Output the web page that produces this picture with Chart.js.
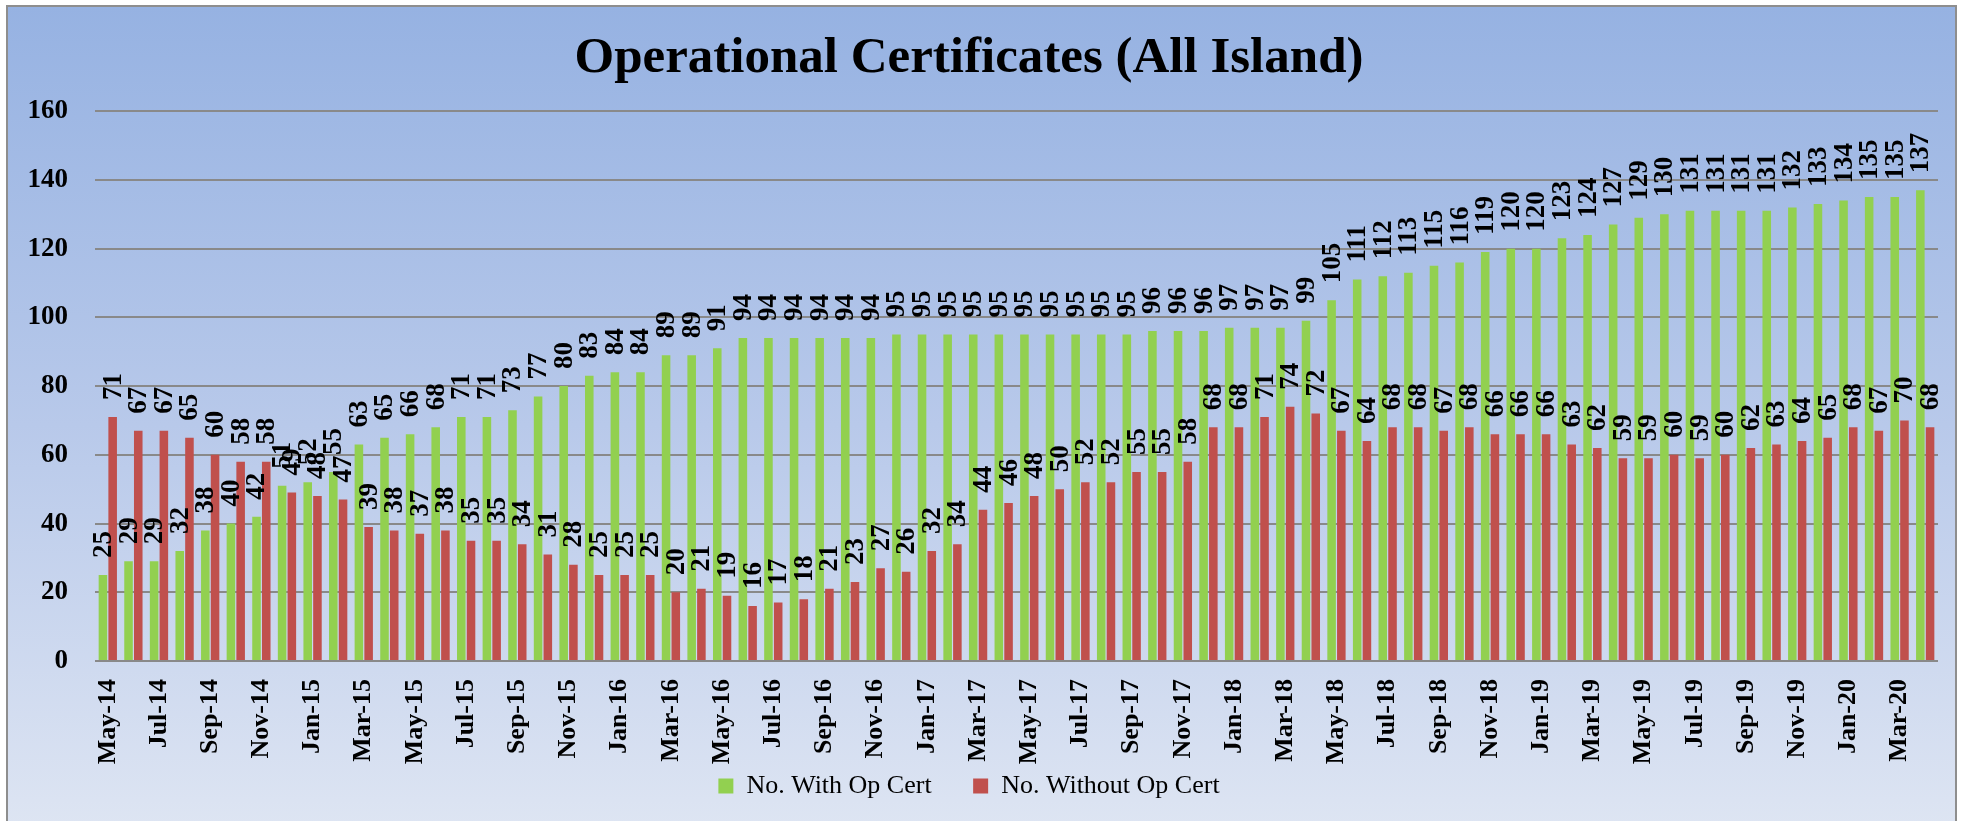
<!DOCTYPE html>
<html>
<head>
<meta charset="utf-8">
<script src="https://cdn.jsdelivr.net/npm/chart.js@4.4.0/dist/chart.umd.min.js"></script>
<style>
    html, body { margin: 0; padding: 0; background: #fff; overflow: hidden; }
    #frame {
        position: absolute; left: 6px; top: 5px; width: 1951px; height: 840px;
        box-sizing: border-box; border: 2px solid #8e8e8e;
        background: linear-gradient(to bottom, #96b2e2 0%, #b8c9ea 50%, #dfe6f3 100%);
    }
    #chart { position: absolute; left: 0; top: 0; }
</style>
</head>
<body>
<div id="frame"></div>
<canvas id="chart" width="1961" height="821"></canvas>
<script>
// months May-14 .. Apr-20
const months = [
    'May-14','Jun-14','Jul-14','Aug-14','Sep-14','Oct-14','Nov-14','Dec-14',
    'Jan-15','Feb-15','Mar-15','Apr-15','May-15','Jun-15','Jul-15','Aug-15','Sep-15','Oct-15','Nov-15','Dec-15',
    'Jan-16','Feb-16','Mar-16','Apr-16','May-16','Jun-16','Jul-16','Aug-16','Sep-16','Oct-16','Nov-16','Dec-16',
    'Jan-17','Feb-17','Mar-17','Apr-17','May-17','Jun-17','Jul-17','Aug-17','Sep-17','Oct-17','Nov-17','Dec-17',
    'Jan-18','Feb-18','Mar-18','Apr-18','May-18','Jun-18','Jul-18','Aug-18','Sep-18','Oct-18','Nov-18','Dec-18',
    'Jan-19','Feb-19','Mar-19','Apr-19','May-19','Jun-19','Jul-19','Aug-19','Sep-19','Oct-19','Nov-19','Dec-19',
    'Jan-20','Feb-20','Mar-20','Apr-20'
];

const withCert = [
    25, 29, 29, 32, 38, 40, 42, 51,
    52, 55, 63, 65, 66, 68, 71, 71, 73, 77, 80, 83,
    84, 84, 89, 89, 91, 94, 94, 94, 94, 94, 94, 95,
    95, 95, 95, 95, 95, 95, 95, 95, 95, 96, 96, 96,
    97, 97, 97, 99, 105, 111, 112, 113, 115, 116, 119, 120,
    120, 123, 124, 127, 129, 130, 131, 131, 131, 131, 132, 133,
    134, 135, 135, 137
];

const withoutCert = [
    71, 67, 67, 65, 60, 58, 58, 49,
    48, 47, 39, 38, 37, 38, 35, 35, 34, 31, 28, 25,
    25, 25, 20, 21, 19, 16, 17, 18, 21, 23, 27, 26,
    32, 34, 44, 46, 48, 50, 52, 52, 55, 55, 58, 68,
    68, 71, 74, 72, 67, 64, 68, 68, 67, 68, 66, 66,
    66, 63, 62, 59, 59, 60, 59, 60, 62, 63, 64, 65,
    68, 67, 70, 68
];

const yMin = 0;
const yMax = 160;
const yStep = 20;

// vertical value labels above each bar
const barLabels = {
    id: 'barLabels',
    afterDatasetsDraw(chart) {
        const ctx = chart.ctx;
        ctx.save();
        ctx.font = 'bold 27px "Liberation Serif"';
        ctx.fillStyle = '#000';
        ctx.textAlign = 'left';
        ctx.textBaseline = 'middle';
        chart.data.datasets.forEach((ds, i) => {
            chart.getDatasetMeta(i).data.forEach((bar, j) => {
                ctx.save();
                ctx.translate(bar.x + 1, bar.y - 17);
                ctx.rotate(-Math.PI / 2);
                ctx.fillText(ds.data[j], 0, 0);
                ctx.restore();
            });
        });
        ctx.restore();
    }
};

const ctx = document.getElementById('chart').getContext('2d');
const chart = new Chart(ctx, {
    type: 'bar',
    data: {
        labels: months,
        datasets: [{
            label: 'No. With Op Cert',
            data: withCert,
            backgroundColor: '#92d050',
            categoryPercentage: 0.76,
            barPercentage: 0.88
        }, {
            label: 'No. Without Op Cert',
            data: withoutCert,
            backgroundColor: '#c0504d',
            categoryPercentage: 0.76,
            barPercentage: 0.88
        }]
    },
    options: {
        responsive: false,
        animation: false,
        layout: { padding: { left: 0, right: 23, top: 0, bottom: 12 } },
        plugins: {
            title: {
                display: true,
                text: 'Operational Certificates (All Island)',
                color: '#000',
                font: { family: 'Liberation Serif', size: 51, weight: 'bold' },
                padding: { top: 28, bottom: 22 }
            },
            legend: {
                position: 'bottom',
                labels: {
                    color: '#000',
                    font: { family: 'Liberation Serif', size: 26 },
                    boxWidth: 15,
                    boxHeight: 15,
                    padding: 9,
                    // a few trailing spaces to widen the gap between the two entries
                    generateLabels: function(chart) {
                        const items = Chart.defaults.plugins.legend.labels.generateLabels(chart);
                        items[0].text += '     ';
                        return items;
                    }
                }
            },
            tooltip: { enabled: false }
        },
        scales: {
            x: {
                grid: { display: false, drawTicks: false },
                border: { display: false },
                ticks: {
                    autoSkip: false,
                    minRotation: 90,
                    maxRotation: 90,
                    padding: 18,
                    color: '#000',
                    font: { family: 'Liberation Serif', size: 26, weight: 'bold' },
                    callback: function(v, i) { return i % 2 === 0 ? this.getLabelForValue(v) : ''; }
                },
                afterFit: function(scale) {
                    scale.height = 103;
                    scale.paddingRight = 0;
                }
            },
            y: {
                min: yMin,
                max: yMax,
                grid: { color: '#898989', lineWidth: 2, drawTicks: false },
                border: { display: false },
                ticks: {
                    stepSize: yStep,
                    padding: 27,
                    color: '#000',
                    font: { family: 'Liberation Serif', size: 27, weight: 'bold' }
                },
                afterFit: function(scale) { scale.width = 95; }
            }
        }
    },
    plugins: [barLabels]
});
</script>
</body>
</html>
